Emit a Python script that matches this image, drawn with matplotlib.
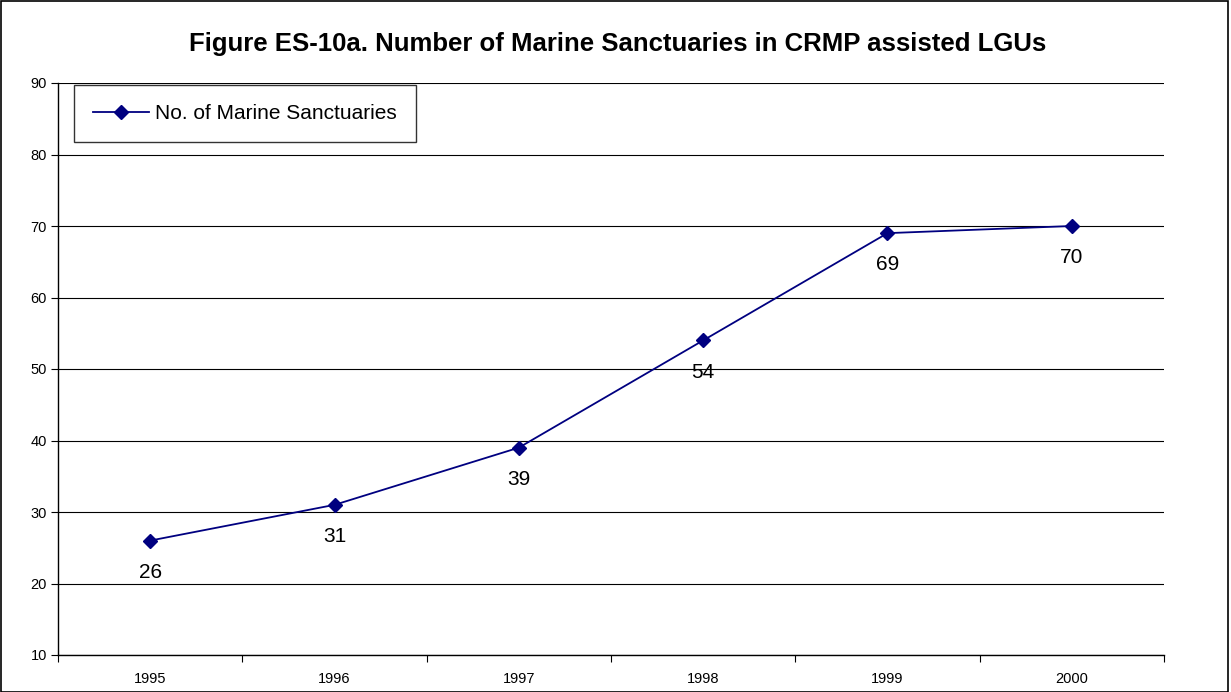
import matplotlib.pyplot as plt
from matplotlib.patches import Rectangle

plt.rcParams["font.family"] = ["Liberation Sans", "DejaVu Sans"]

years = ["1995", "1996", "1997", "1998", "1999", "2000"]
sanctuaries = [26, 31, 39, 54, 69, 70]

fig = plt.figure(figsize=(12.31, 6.92), dpi=100)
ax = fig.add_axes([58 / 1231, 1 - 655 / 692, (1164 - 58) / 1231, (655 - 83) / 692])

x = [i + 0.5 for i in range(len(years))]
ax.plot(x, sanctuaries, color="#000080", lw=1.3, marker="D", ms=7.5,
        mec="#000080", mfc="#000080", label="No. of Marine Sanctuaries", zorder=3)

# data labels under each point
for xi, v in zip(x, sanctuaries):
    ax.annotate(str(v), (xi, v), xytext=(0, -16), textcoords="offset points",
                ha="center", va="top", fontsize=15)

ax.set_xlim(0, len(years))
ax.set_ylim(10, 90)
ax.set_yticks(range(10, 91, 10))
ax.set_xticks(range(len(years) + 1))
ax.set_xticklabels([])
ax.set_xticks(x, minor=True)
ax.set_xticklabels(years, minor=True)
ax.tick_params(axis="x", which="minor", length=0, pad=12, labelsize=10.5)
ax.tick_params(axis="x", which="major", length=5, direction="out")
ax.tick_params(axis="y", length=5, direction="out", labelsize=10.5, pad=3)

ax.grid(axis="y", color="black", lw=0.8)
ax.set_axisbelow(True)
for s in ["top", "right"]:
    ax.spines[s].set_visible(False)
for s in ["left", "bottom"]:
    ax.spines[s].set_linewidth(1.0)

leg = ax.legend(loc="upper left", bbox_to_anchor=(14 / 1106, 1.0), fontsize=15,
                frameon=True, fancybox=False, edgecolor="black", borderpad=0.9,
                handlelength=2.7, handletextpad=0.3, borderaxespad=0.1)
leg.get_frame().set_linewidth(1.0)

fig.text(618 / 1231, 1 - 44 / 692,
         "Figure ES-10a. Number of Marine Sanctuaries in CRMP assisted LGUs",
         ha="center", va="center", fontsize=18.5, fontweight="bold")

fig.patches.append(Rectangle((1 / 1231, 0), 1227 / 1231, 1 - 1 / 692,
                             transform=fig.transFigure, fill=False,
                             edgecolor="black", lw=1.2))

fig.savefig("out.png", dpi=100)
